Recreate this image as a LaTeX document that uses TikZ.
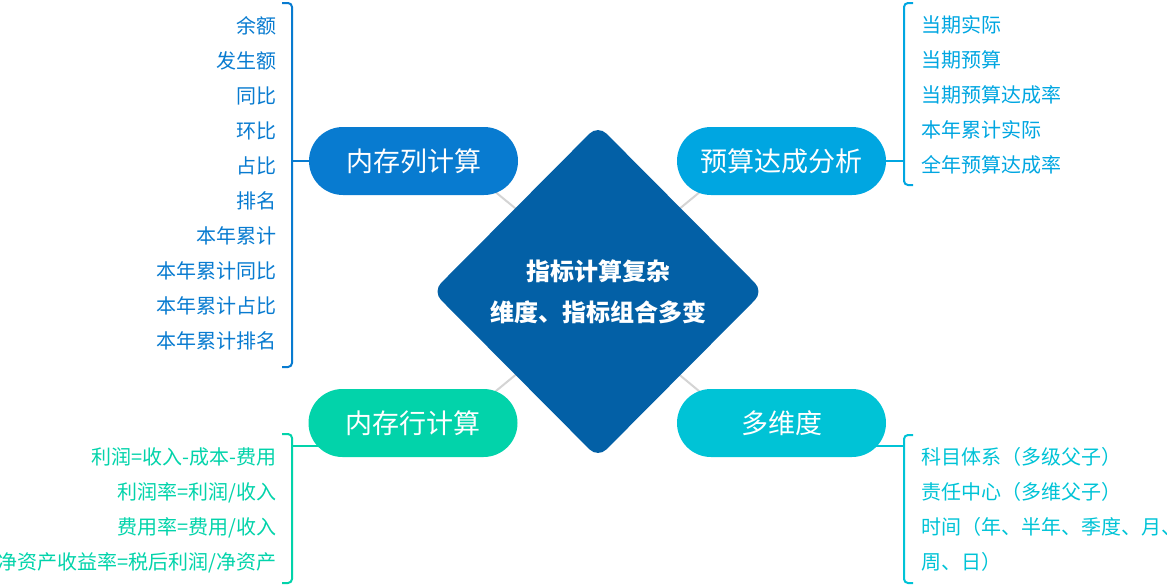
\documentclass[tikz,border=0pt]{standalone}
\usepackage{fontspec}
\newfontfamily\cjk{Noto Sans CJK SC}
\usetikzlibrary{shapes.geometric,shapes.misc,backgrounds}
\definecolor{cA}{RGB}{8,123,208}
\definecolor{cB}{RGB}{0,166,225}
\definecolor{cC}{RGB}{2,211,170}
\definecolor{cD}{RGB}{0,195,214}
\definecolor{cM}{RGB}{3,96,166}
\definecolor{cG}{RGB}{212,212,212}
\tikzset{
  pill/.style={rounded rectangle, minimum width=209pt, minimum height=68pt, inner sep=0pt,
    text=white, font=\cjk\fontsize{27}{32}\selectfont},
  item/.style={inner xsep=0pt, inner ysep=0pt, text height=17.6pt, text depth=2.4pt,
    font=\cjk\fontsize{20}{24}\selectfont},
  litem/.style={item, anchor=east},
  ritem/.style={item, anchor=west},
  brk/.style={line width=2pt, rounded corners=4pt},
  link/.style={draw=cG, line width=2pt},
  stub/.style={line width=2pt},
}
\begin{document}
\begin{tikzpicture}[x=1pt,y=-1pt]
\useasboundingbox (0,0) rectangle (1167,584);

% center diamond
\node[shape=diamond, fill=cM, minimum width=331pt, minimum height=333pt, inner sep=0pt,
  rounded corners=12pt, text=white, align=center,
  font=\cjk\bfseries\fontsize{24}{41}\selectfont] (m) at (598,291.5)
  {指标计算复杂\\维度、指标组合多变};

% branch pills
\node[pill, fill=cA] (p1) at (413.5,161) {内存列计算};
\node[pill, fill=cB] (p2) at (781.5,161) {预算达成分析};
\node[pill, fill=cC] (p3) at (413,423) {内存行计算};
\node[pill, fill=cD] (p4) at (781.5,423) {多维度};

% bracket junction points
\coordinate (b1) at (292,161);
\coordinate (b2) at (904,161);
\coordinate (b3) at (292,446);
\coordinate (b4) at (904,446);

% brackets
\draw[brk, cA] (282,3) -- (292,3) -- (292,367) -- (282,367);
\draw[brk, cB] (913,3) -- (904,3) -- (904,185) -- (913,185);
\draw[brk, cC] (282,434) -- (292,434) -- (292,583) -- (282,583);
\draw[brk, cD] (913,435) -- (904,435) -- (904,583) -- (913,583);

\begin{scope}[on background layer]
  \draw[link] ([xshift=44pt]p1.center) -- ([xshift=19pt]m.center);
  \draw[link] ([xshift=-44pt]p2.center) -- ([xshift=-19pt]m.center);
  \draw[link] ([xshift=44pt]p3.center) -- ([xshift=19pt]m.center);
  \draw[link] ([xshift=-44pt]p4.center) -- ([xshift=-19pt]m.center);
  \draw[stub, cA] (b1) -- (b1 -| p1.center);
  \draw[stub, cB] (b2) -- (b2 -| p2.center);
  \draw[stub, cC] (b3) -- (b3 -| p3.center);
  \draw[stub, cD] (b4) -- (b4 -| p4.center);
\end{scope}

% left top items
\begin{scope}[every node/.append style={litem, text=cA}]
  \node (l1) at (277,25.5) {余额};
  \node (l2) at (277,60.5) {发生额};
  \node (l3) at (277,95.5) {同比};
  \node (l4) at (277,130.5) {环比};
  \node (l5) at (277,165.5) {占比};
  \node (l6) at (277,200.5) {排名};
  \node (l7) at (277,235.5) {本年累计};
  \node (l8) at (277,270.5) {本年累计同比};
  \node (l9) at (277,305.5) {本年累计占比};
  \node (l10) at (277,340.5) {本年累计排名};
\end{scope}

% right top items
\begin{scope}[every node/.append style={ritem, text=cB}]
  \node (r1) at (921.5,25) {当期实际};
  \node (r2) at (921.5,60) {当期预算};
  \node (r3) at (921.5,95) {当期预算达成率};
  \node (r4) at (921.5,130) {本年累计实际};
  \node (r5) at (921.5,165) {全年预算达成率};
\end{scope}

% left bottom items
\begin{scope}[every node/.append style={litem, text=cC}]
  \node (g1) at (277,457) {利润=收入-成本-费用};
  \node (g2) at (277,492) {利润率=利润/收入};
  \node (g3) at (277,527) {费用率=费用/收入};
  \node (g4) at (277,562) {净资产收益率=税后利润/净资产};
\end{scope}

% right bottom items
\begin{scope}[every node/.append style={ritem, text=cD}]
  \node (d1) at (921.5,457) {科目体系（多级父子）};
  \node (d2) at (921.5,492) {责任中心（多维父子）};
  \node (d3) at (921.5,527) {时间（年、半年、季度、月、};
  \node (d4) at (921.5,562) {周、日）};
\end{scope}
\end{tikzpicture}
\end{document}
